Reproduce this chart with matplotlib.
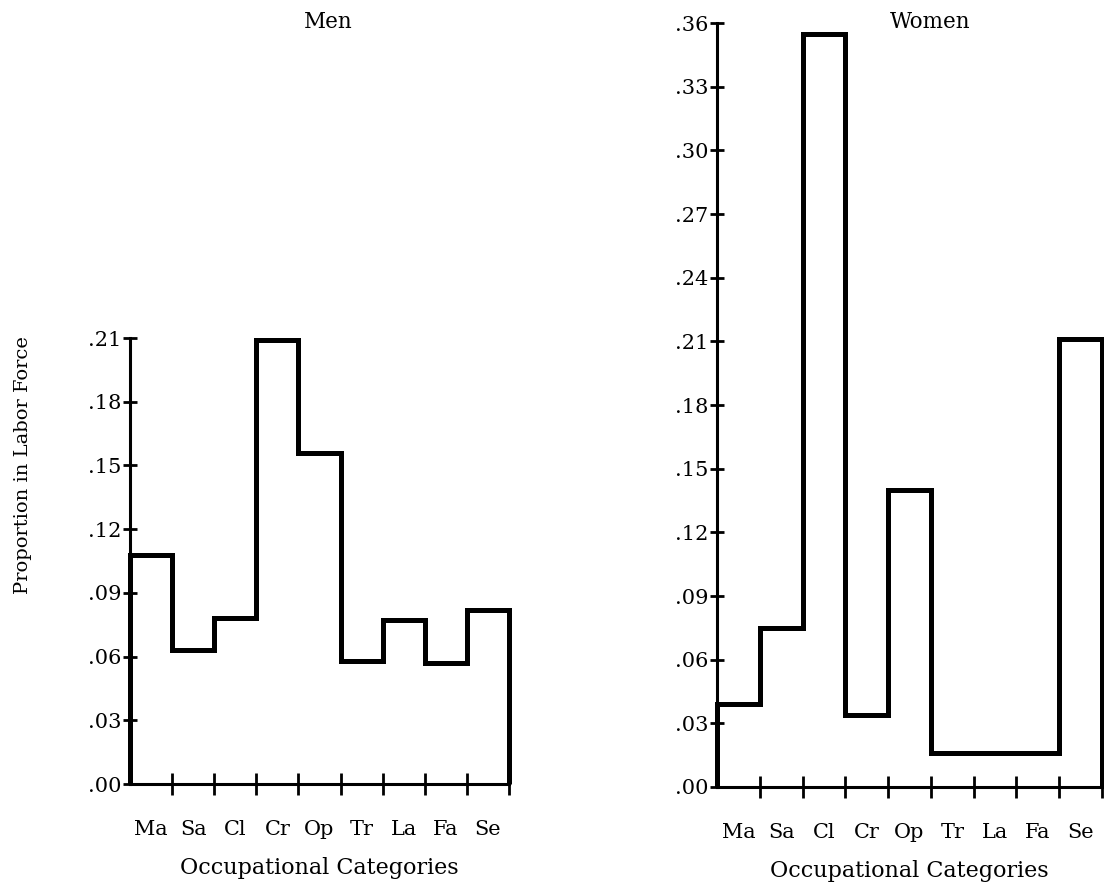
import numpy as np
import matplotlib
matplotlib.use("Agg")
import matplotlib.pyplot as plt
from matplotlib.ticker import FixedLocator, FuncFormatter

# occupational categories and proportions
categories = ["Ma", "Sa", "Cl", "Cr", "Op", "Tr", "La", "Fa", "Se"]
men = [0.108, 0.063, 0.078, 0.209, 0.156, 0.058, 0.077, 0.057, 0.082]
women = [0.039, 0.075, 0.355, 0.034, 0.140, 0.016, 0.016, 0.016, 0.211]
men_ticks = [0.00, 0.03, 0.06, 0.09, 0.12, 0.15, 0.18, 0.21]
women_ticks = [0.00, 0.03, 0.06, 0.09, 0.12, 0.15, 0.18, 0.21, 0.24, 0.27, 0.30, 0.33, 0.36]

plt.rcParams['font.family'] = ['DejaVu Serif']

W, H = 1104, 885
fig = plt.figure(figsize=(W / 100, H / 100), dpi=100)


def frac(x0, y_top, x1, y_bot):
    return [x0 / W, 1 - y_bot / H, (x1 - x0) / W, (y_bot - y_top) / H]


def draw_panel(ax, values, yticks, title, title_x):
    edges = np.arange(len(values) + 1)
    ax.stairs(values, edges, baseline=0, color="black", linewidth=3.6, clip_on=False)
    ax.set_xlim(0, len(values))
    ax.set_ylim(0, yticks[-1])
    for s in ["top", "right"]:
        ax.spines[s].set_visible(False)
    for s in ["left", "bottom"]:
        ax.spines[s].set_linewidth(2.2)
    ax.set_yticks(yticks)
    ax.yaxis.set_major_formatter(FuncFormatter(lambda v, p: ("%.2f" % v)[1:]))
    ax.tick_params(axis="y", direction="inout", length=10, width=2, labelsize=15, pad=1)
    ax.set_xticks(edges[:-1] + 0.5)
    ax.set_xticklabels(categories)
    ax.tick_params(axis="x", which="major", length=0, labelsize=15, pad=26)
    ax.xaxis.set_minor_locator(FixedLocator(edges[1:]))
    ax.tick_params(axis="x", which="minor", direction="inout", length=16, width=2)
    ax.set_xlabel("Occupational Categories", fontsize=16, labelpad=13)
    fig.text(title_x / W, 1 - 22 / H, title, fontsize=15.5, ha="center", va="center")


ax1 = fig.add_axes(frac(130, 338, 509, 784))
draw_panel(ax1, men, men_ticks, "Men", 328)

ax2 = fig.add_axes(frac(717, 23, 1102, 787))
draw_panel(ax2, women, women_ticks, "Women", 930)

fig.text(23 / W, 1 - 465 / H, "Proportion in Labor Force", rotation=90,
         fontsize=14, ha="center", va="center")

fig.savefig("out.png", dpi=100)
